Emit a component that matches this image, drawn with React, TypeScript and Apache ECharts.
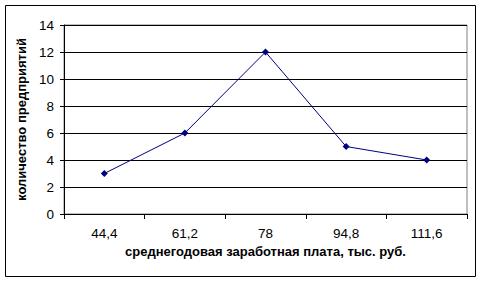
import React, { useEffect, useRef } from "react";
import * as echarts from "echarts";

const categories = ["44,4", "61,2", "78", "94,8", "111,6"];
const values = [3, 6, 12, 5, 4];
const yTicks = { min: 0, max: 14, interval: 2 };
const xName = "среднегодовая заработная плата, тыс. руб.";
const yName = "количество предприятий";

const FONT = "'Liberation Sans', Arial, sans-serif";

export default function App() {
  const ref = useRef<HTMLDivElement>(null);
  useEffect(() => {
    if (!ref.current) return;
    const chart = echarts.init(ref.current, undefined, { renderer: "svg" });
    chart.setOption({
      animation: false,
      backgroundColor: "#ffffff",
      graphic: [
        {
          type: "rect",
          shape: { x: 5.5, y: 5.5, width: 470, height: 271 },
          style: { fill: "none", stroke: "#000000", lineWidth: 1 },
          z: 100,
        },
      ],
      grid: {
        left: 64,
        top: 25,
        right: 15,
        bottom: 68,
        show: true,
        borderColor: "#808080",
        borderWidth: 1,
        backgroundColor: "transparent",
      },
      xAxis: {
        type: "category",
        data: categories,
        boundaryGap: true,
        name: xName,
        nameLocation: "middle",
        nameGap: 31,
        nameTextStyle: { fontFamily: FONT, fontSize: 13, fontWeight: "bold", color: "#000" },
        axisLine: { show: true, lineStyle: { color: "#000", width: 1 } },
        axisTick: { show: true, length: 5, alignWithLabel: false, lineStyle: { color: "#000" } },
        axisLabel: { fontFamily: FONT, fontSize: 13.5, color: "#000", margin: 12 },
        splitLine: { show: false },
      },
      yAxis: {
        type: "value",
        min: yTicks.min,
        max: yTicks.max,
        interval: yTicks.interval,
        name: yName,
        nameLocation: "middle",
        nameGap: 31,
        nameTextStyle: { fontFamily: FONT, fontSize: 13, fontWeight: "bold", color: "#000" },
        axisLine: { show: true, lineStyle: { color: "#000", width: 1 } },
        axisTick: { show: true, length: 4, lineStyle: { color: "#000" } },
        axisLabel: { fontFamily: FONT, fontSize: 13.5, color: "#000", margin: 10 },
        splitLine: { show: true, lineStyle: { color: "#000", width: 1 } },
      },
      series: [
        {
          type: "line",
          data: values,
          symbol: "diamond",
          symbolSize: 7,
          lineStyle: { color: "#000080", width: 1 },
          itemStyle: { color: "#000080" },
        },
      ],
    });
    return () => chart.dispose();
  }, []);
  return (
    <div
      ref={ref}
      style={{ position: "fixed", left: 0, top: 0, width: 482, height: 282 }}
    />
  );
}
